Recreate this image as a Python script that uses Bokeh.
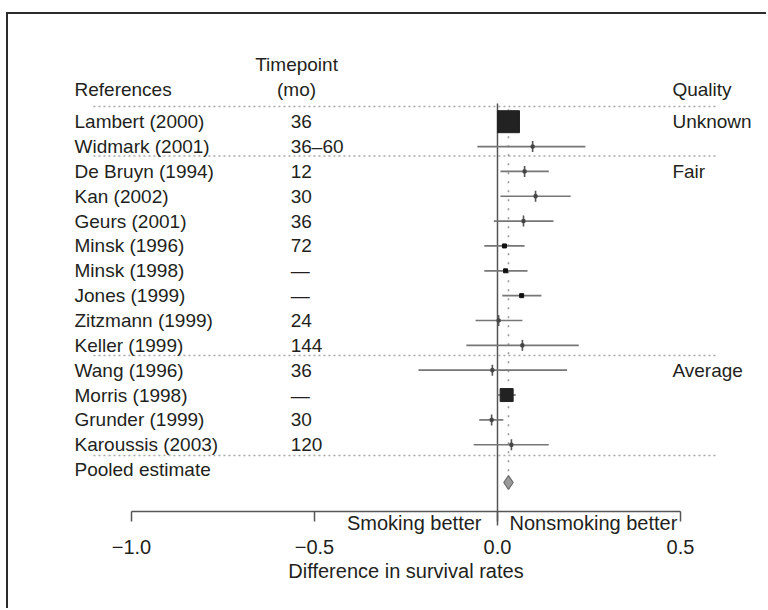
from bokeh.plotting import figure
from bokeh.models import Range1d, ColumnDataSource, FixedTicker
from bokeh.core.properties import value
from bokeh.embed import file_html
from bokeh.resources import INLINE

# ---------------- data ----------------
references = ["Lambert (2000)", "Widmark (2001)", "De Bruyn (1994)", "Kan (2002)",
              "Geurs (2001)", "Minsk (1996)", "Minsk (1998)", "Jones (1999)",
              "Zitzmann (1999)", "Keller (1999)", "Wang (1996)", "Morris (1998)",
              "Grunder (1999)", "Karoussis (2003)"]
timepoints = ["36", "36\u201360", "12", "30", "36", "72", "\u2014", "\u2014",
              "24", "144", "36", "\u2014", "30", "120"]
estimate = [0.030, 0.096, 0.074, 0.104, 0.071, 0.019, 0.022, 0.066,
            0.003, 0.068, -0.014, 0.025, -0.016, 0.038]
ci_low = [0.005, -0.055, 0.008, 0.008, -0.010, -0.036, -0.036, 0.013,
          -0.060, -0.085, -0.216, 0.000, -0.050, -0.065]
ci_high = [0.055, 0.240, 0.140, 0.200, 0.153, 0.074, 0.082, 0.120,
           0.068, 0.222, 0.190, 0.050, 0.016, 0.140]
quality_labels = ["Unknown", "Fair", "Average"]
quality_rows = [0, 2, 10]
pooled_estimate = 0.030
x_ticks = [-1.0, -0.5, 0.0, 0.5]
x_tick_labels = ["\u22121.0", "\u22120.5", "0.0", "0.5"]

# marker style per study: big square, mid square, dot, or tick
marker_kind = ["big", "tick", "tick", "tick", "tick", "dot", "dot", "dot",
               "tick", "tick", "tick", "mid", "tick", "tick"]

FONT = "Liberation Sans"
FS = "19px"
FS2 = "20px"
TXT = "#231f20"
rows = list(range(len(references)))

p = figure(width=760, height=596, output_backend="svg", toolbar_location=None,
           x_range=Range1d(-1.20492, 0.74044), y_range=Range1d(19.670, -4.314),
           min_border_left=48, min_border_right=0, min_border_top=0, min_border_bottom=0,
           margin=(12, 0, 0, 6),
           styles={"border-top": "2px solid #2b2b2b", "border-left": "2px solid #2b2b2b"})
p.outline_line_color = None
p.xgrid.visible = False
p.ygrid.visible = False
p.yaxis.visible = False

# separators
sep_rows = [-0.61, 1.38, 9.41, 13.43]
p.segment(x0=[-1.104] * 4, x1=[0.601] * 4, y0=sep_rows, y1=sep_rows,
          line_color="#a8a8a8", line_width=1.6, line_dash="2 3")

# zero line and pooled dotted line
p.segment(x0=[0.0], x1=[0.0], y0=[-0.73], y1=[16.25], line_color="#555555", line_width=1.5)
p.segment(x0=[pooled_estimate], x1=[pooled_estimate], y0=[-0.5], y1=[14.2],
          line_color="#999999", line_width=1.6, line_dash="2 7")

src = ColumnDataSource(dict(y=rows, est=estimate, lo=ci_low, hi=ci_high,
                            ref=references, tp=timepoints, kind=marker_kind))

# confidence intervals
p.segment(x0="lo", x1="hi", y0="y", y1="y", source=src, line_color="#767676", line_width=1.7)

def sub(kind):
    idx = [i for i, k in enumerate(marker_kind) if k == kind]
    return dict(x=[estimate[i] for i in idx], y=[rows[i] for i in idx])

big = sub("big")
p.scatter(big["x"], big["y"], marker="square", size=22, fill_color="#222222", line_color="#222222")
mid = sub("mid")
p.scatter(mid["x"], mid["y"], marker="square", size=13, fill_color="#222222", line_color="#222222")
dot = sub("dot")
p.scatter(dot["x"], dot["y"], marker="square", size=4, fill_color="#111111", line_color="#111111")
tick = sub("tick")
p.scatter(tick["x"], tick["y"], marker="dash", angle=1.5708, size=11, line_color="#555555", line_width=1.6)
p.scatter(tick["x"], tick["y"], marker="square", size=3, fill_color="#444444", line_color="#444444")

# pooled diamond
p.scatter([pooled_estimate], [14.52], marker="diamond", size=14, fill_color="#9a9a9a",
          line_color="#6a6a6a", line_width=1.2)

# texts
def txt(x, y, t, align="left", fs=FS, **kw):
    p.text(x=x, y=y, text=t, text_font=value(FONT), text_font_size=fs,
           text_baseline="middle", text_align=align, text_color=TXT, **kw)

QX = 0.478
txt(-1.1557, "y", "ref", source=src)
txt(-0.565, "y", "tp", source=src)
txt([QX] * 3, quality_rows, quality_labels)
txt([-1.1557, QX], [-1.30, -1.30], ["References", "Quality"])
txt([-0.549, -0.549], [-2.32, -1.30], ["Timepoint", "(mo)"], align="center")
txt([-1.1557], [14.0], ["Pooled estimate"])
txt([-0.0437], [16.13], ["Smoking better"], align="right", fs=FS2)
txt([0.0328], [16.13], ["Nonsmoking better"], align="left", fs=FS2)

# x axis drawn at a fixed data location inside the plot
ax = p.xaxis[0]
ax.fixed_location = 15.686
ax.bounds = (-1.0, 0.5)
ax.ticker = FixedTicker(ticks=x_ticks)
ax.major_label_overrides = {t: l for t, l in zip(x_ticks, x_tick_labels)}
ax.minor_tick_line_color = None
ax.major_tick_out = 10
ax.major_tick_in = 0
ax.axis_line_color = "#555555"
ax.axis_line_width = 1.5
ax.major_tick_line_color = "#555555"
ax.major_tick_line_width = 1.5
ax.major_label_text_font = FONT
ax.major_label_text_font_size = FS2
ax.major_label_text_color = TXT
ax.major_label_standoff = 19
ax.axis_label = "Difference in survival rates"
ax.axis_label_text_font = FONT
ax.axis_label_text_font_size = FS2
ax.axis_label_text_font_style = "normal"
ax.axis_label_text_color = TXT
ax.axis_label_standoff = 2

open("out.html", "w").write(file_html(p, INLINE))
